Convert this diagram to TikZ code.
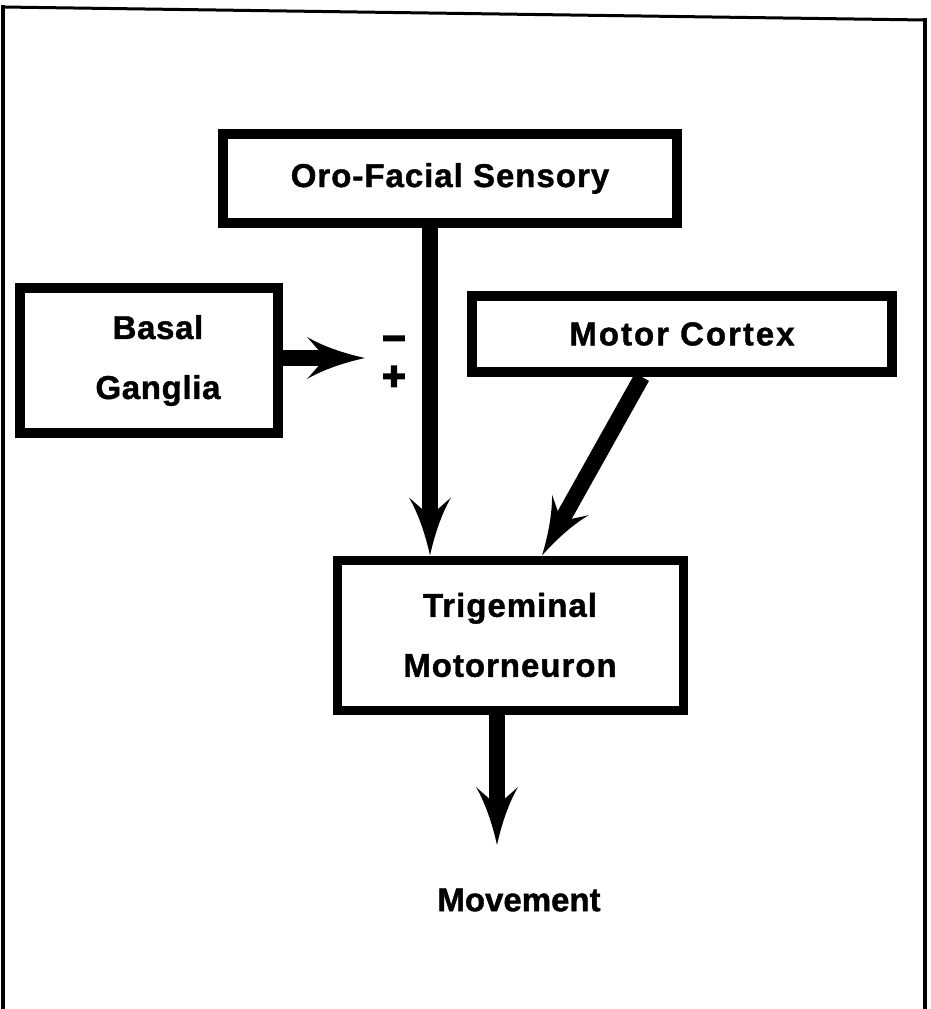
\documentclass[tikz,border=0pt]{standalone}
\usepackage{fontspec}
\setmainfont{Liberation Sans}[BoldFeatures={FakeBold=1.2}]
\newfontfamily\signfont[FakeBold=4]{Liberation Sans Bold}
\usetikzlibrary{arrows.meta}

\pgfdeclarearrow{
  name = Barb,
  parameters = {\the\pgfarrowlength,\the\pgfarrowwidth},
  setup code = {
    \pgfarrowssettipend{0pt}
    \pgfarrowssetbackend{-\pgfarrowlength}
    \pgfarrowssetlineend{-0.7\pgfarrowlength}
    \pgfarrowssetvisualbackend{-0.8\pgfarrowlength}
    \pgfarrowssavethe\pgfarrowlength
    \pgfarrowssavethe\pgfarrowwidth
  },
  drawing code = {
    \pgfpathmoveto{\pgfpointorigin}
    \pgfpathcurveto{\pgfpoint{-0.4\pgfarrowlength}{0.12\pgfarrowwidth}}{\pgfpoint{-0.75\pgfarrowlength}{0.3\pgfarrowwidth}}{\pgfpoint{-\pgfarrowlength}{0.5\pgfarrowwidth}}
    \pgfpathcurveto{\pgfpoint{-0.92\pgfarrowlength}{0.38\pgfarrowwidth}}{\pgfpoint{-0.85\pgfarrowlength}{0.26\pgfarrowwidth}}{\pgfpoint{-0.8\pgfarrowlength}{0.19\pgfarrowwidth}}
    \pgfpathlineto{\pgfpoint{-0.8\pgfarrowlength}{-0.19\pgfarrowwidth}}
    \pgfpathcurveto{\pgfpoint{-0.85\pgfarrowlength}{-0.26\pgfarrowwidth}}{\pgfpoint{-0.92\pgfarrowlength}{-0.38\pgfarrowwidth}}{\pgfpoint{-\pgfarrowlength}{-0.5\pgfarrowwidth}}
    \pgfpathcurveto{\pgfpoint{-0.75\pgfarrowlength}{-0.3\pgfarrowwidth}}{\pgfpoint{-0.4\pgfarrowlength}{-0.12\pgfarrowwidth}}{\pgfpointorigin}
    \pgfpathclose
    \pgfusepathqfill
  },
  defaults = {length=58pt, width=42pt}
}

\tikzset{
  box/.style={draw, rectangle, line width=10pt, inner sep=0pt, align=center},
  txt/.style={font=\fontsize{33}{60}\selectfont\bfseries\addfontfeatures{LetterSpace=#1}},
  conn/.style={line width=16pt, -{Barb}},
  frameline/.style={line width=4pt, line cap=rect},
  sign/.style={font=\fontsize{40}{40}\selectfont\signfont, inner sep=0pt}
}

\begin{document}
\begin{tikzpicture}[x=1pt, y=-1pt]
\useasboundingbox (0,0) rectangle (931,1009);

% frame
\coordinate (ftl) at (3,7);
\coordinate (ftr) at (925,20);
\coordinate (fbl) at (3,1012);
\coordinate (fbr) at (925,1012);
\draw[frameline] (fbl) -- (ftl);
\draw[line width=3pt] (ftl) -- (ftr);
\draw[frameline] (ftr) -- (fbr);

% boxes
\node[box, txt=3, minimum width=454pt, minimum height=89pt] (oro) at (450,178.5) {Oro-Facial Sensory};
\node[box, txt=2, minimum width=258pt, minimum height=145pt] (basal) at (149,360.5) {\hspace*{18pt}Basal\\\hspace*{18pt}Ganglia};
\node[box, txt=6, minimum width=420pt, minimum height=76pt] (motor) at (682,334) {Motor Cortex};
\node[box, txt=3, line width=9pt, minimum width=346pt, minimum height=150pt] (trig) at (510,635) {Trigeminal\\Motorneuron};
\node[txt=0, inner sep=0pt] (move) at (519,900) {Movement};

% signs
\node[sign, anchor=center] (minus) at (394,344) {\textminus};
\node[sign, anchor=center] (plus) at (394,378) {+};

% helper coordinates
\coordinate (colA) at (430,0);
\coordinate (tipB) at (365,358);
\coordinate (colM1) at (642,0);
\coordinate (colM2) at (542,0);
\coordinate (colV) at (497,0);
\coordinate (tipV) at (497,845);

% connectors
\draw[conn] (oro.south -| colA) -- (trig.north -| colA);
\draw[conn] (basal.east |- tipB) -- (tipB);
\draw[conn] (motor.south -| colM1) -- (trig.north -| colM2);
\draw[conn] (trig.south -| colV) -- (tipV);
\end{tikzpicture}
\end{document}
